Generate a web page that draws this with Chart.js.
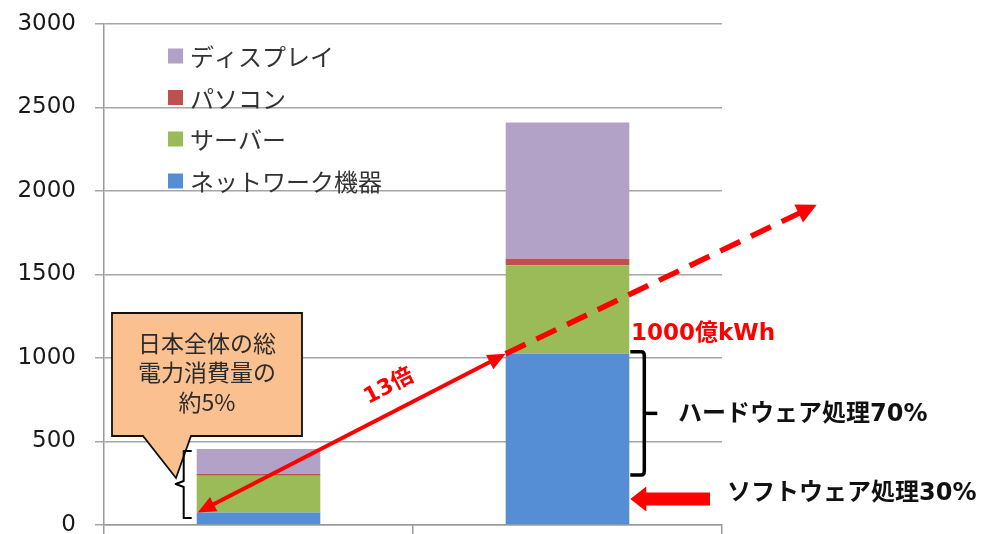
<!DOCTYPE html>
<html>
<head>
<meta charset="utf-8">
<script src="https://cdn.jsdelivr.net/npm/chart.js@4.4.1/dist/chart.umd.min.js"></script>
<style>
html,body{margin:0;padding:0;background:#fff;}
#wrap{width:1002px;height:534px;position:relative;}
</style>
</head>
<body>
<div id="wrap"><canvas id="c"></canvas></div>
<script>
// ---- data ----
const categories = ["現在", "将来"];
const seriesLabels = ["ネットワーク機器", "サーバー", "パソコン", "ディスプレイ"];
const network = [75, 1025];
const server = [220, 530];
const pc = [10, 40];
const display = [150, 815];
const yTicks = [0, 500, 1000, 1500, 2000, 2500, 3000];
const colors = ["#558ED5", "#9BBB59", "#C0504D", "#B3A2C7"];

const JP = "'Noto Sans CJK JP', sans-serif";
const NUM = "'DejaVu Sans', 'Noto Sans CJK JP', sans-serif";

function arrowHead(ctx, tx, ty, ang, len, half) {
  ctx.beginPath();
  ctx.moveTo(tx, ty);
  ctx.lineTo(tx - len * Math.cos(ang) + half * Math.sin(ang), ty - len * Math.sin(ang) - half * Math.cos(ang));
  ctx.lineTo(tx - len * Math.cos(ang) - half * Math.sin(ang), ty - len * Math.sin(ang) + half * Math.cos(ang));
  ctx.closePath();
  ctx.fill();
}

const annotations = {
  id: 'annotations',
  afterDraw(chart) {
    const ctx = chart.ctx;
    const m0 = chart.getDatasetMeta(0);
    const m3 = chart.getDatasetMeta(3);
    const yS = chart.scales.y;
    const L = m0.data[0], R = m0.data[1];
    const lLeft = L.x - L.width / 2, rLeft = R.x - R.width / 2, rRight = R.x + R.width / 2;
    ctx.save();

    // legend (reverse order)
    const legendY = [56, 97.5, 139, 181];
    for (let k = 0; k < 4; k++) {
      const i = 3 - k;
      ctx.fillStyle = colors[i];
      ctx.fillRect(168, legendY[k] - 7.5, 15, 15);
      ctx.fillStyle = '#333';
      ctx.font = "24px " + JP;
      ctx.textBaseline = 'middle';
      ctx.textAlign = 'left';
      ctx.fillText(seriesLabels[i], 190, legendY[k] + 1);
    }

    // callout
    ctx.beginPath();
    ctx.moveTo(112, 313);
    ctx.lineTo(302, 313);
    ctx.lineTo(302, 436);
    ctx.lineTo(191, 436);
    ctx.lineTo(176, 478);
    ctx.lineTo(143, 436);
    ctx.lineTo(112, 436);
    ctx.closePath();
    ctx.fillStyle = '#FAC090';
    ctx.fill();
    ctx.lineWidth = 1.8;
    ctx.strokeStyle = '#111';
    ctx.stroke();
    ctx.fillStyle = '#2b2b2b';
    ctx.font = "23px " + JP;
    ctx.textAlign = 'center';
    ctx.textBaseline = 'middle';
    ctx.fillText("日本全体の総", 207, 343);
    ctx.fillText("電力消費量の", 207, 372);
    ctx.fillText("約5%", 207, 402);

    // left brace
    const lTop = m3.data[0].y + 2, lBot = 518, lMid = 484;
    ctx.strokeStyle = '#000';
    ctx.lineWidth = 2;
    ctx.lineJoin = 'round';
    ctx.beginPath();
    ctx.moveTo(lLeft - 5, lTop);
    ctx.lineTo(lLeft - 13, lTop);
    ctx.lineTo(lLeft - 13, lMid - 3);
    ctx.lineTo(lLeft - 21, lMid);
    ctx.lineTo(lLeft - 13, lMid + 3);
    ctx.lineTo(lLeft - 13, lBot);
    ctx.lineTo(lLeft - 5, lBot);
    ctx.stroke();

    // red solid double arrow
    const x1 = lLeft + 1, y1 = L.y, x2 = rLeft, y2 = R.y;
    const ang = Math.atan2(y2 - y1, x2 - x1);
    ctx.strokeStyle = '#FF0000';
    ctx.fillStyle = '#FF0000';
    ctx.lineWidth = 4;
    ctx.beginPath();
    ctx.moveTo(x1 + 14 * Math.cos(ang), y1 + 14 * Math.sin(ang));
    ctx.lineTo(x2 - 14 * Math.cos(ang), y2 - 14 * Math.sin(ang));
    ctx.stroke();
    arrowHead(ctx, x2, y2, ang, 18, 8);
    arrowHead(ctx, x1, y1, ang + Math.PI, 18, 8);

    // red dashed arrow
    const ex = x2 + 311, ey = y2 - 149;
    const ang2 = Math.atan2(ey - y2, ex - x2);
    ctx.lineWidth = 5.5;
    ctx.setLineDash([22, 12]);
    ctx.beginPath();
    ctx.moveTo(x2, y2);
    ctx.lineTo(ex - 16 * Math.cos(ang2), ey - 16 * Math.sin(ang2));
    ctx.stroke();
    ctx.setLineDash([]);
    arrowHead(ctx, ex, ey, ang2, 20, 10);

    // 13倍
    ctx.save();
    ctx.translate(389, 387);
    ctx.rotate(ang);
    ctx.font = "bold 22px " + NUM;
    ctx.textAlign = 'center';
    ctx.textBaseline = 'middle';
    ctx.fillText("13倍", 0, 0);
    ctx.restore();

    // 1000億kWh
    ctx.font = "bold 23px " + NUM;
    ctx.textAlign = 'left';
    ctx.textBaseline = 'middle';
    ctx.fillText("1000億kWh", 631, 334);

    // right brace
    const rTop = R.y - 2, rBot = yS.getPixelForValue(300), rMid = (rTop + rBot) / 2;
    ctx.strokeStyle = '#000';
    ctx.lineWidth = 3.5;
    ctx.beginPath();
    ctx.moveTo(rRight + 1, rTop);
    ctx.lineTo(rRight + 12, rTop);
    ctx.quadraticCurveTo(rRight + 15, rTop, rRight + 15, rTop + 4);
    ctx.lineTo(rRight + 15, rBot - 4);
    ctx.quadraticCurveTo(rRight + 15, rBot, rRight + 12, rBot);
    ctx.lineTo(rRight + 1, rBot);
    ctx.stroke();
    ctx.beginPath();
    ctx.moveTo(rRight + 15, rMid);
    ctx.lineTo(rRight + 28, rMid);
    ctx.stroke();

    ctx.fillStyle = '#111';
    ctx.font = "bold 24px " + NUM;
    ctx.fillText("ハードウェア処理70%", 678, rMid + 1);

    // red left-pointing arrow
    const ay = 499;
    ctx.fillStyle = '#FF0000';
    ctx.beginPath();
    ctx.moveTo(rRight + 1, ay);
    ctx.lineTo(rRight + 17, ay - 12.5);
    ctx.lineTo(rRight + 17, ay - 6.5);
    ctx.lineTo(710, ay - 6.5);
    ctx.lineTo(710, ay + 6.5);
    ctx.lineTo(rRight + 17, ay + 6.5);
    ctx.lineTo(rRight + 17, ay + 12.5);
    ctx.closePath();
    ctx.fill();

    ctx.fillStyle = '#111';
    ctx.font = "bold 24px " + NUM;
    ctx.fillText("ソフトウェア処理30%", 727, 494);

    ctx.restore();
  }
};

const mk = (label, data, c) => ({ label, data, backgroundColor: c, borderWidth: 0, barPercentage: 0.4, categoryPercentage: 1.0 });

new Chart(document.getElementById('c'), {
  type: 'bar',
  data: {
    labels: categories,
    datasets: [
      mk(seriesLabels[0], network, colors[0]),
      mk(seriesLabels[1], server, colors[1]),
      mk(seriesLabels[2], pc, colors[2]),
      mk(seriesLabels[3], display, colors[3])
    ]
  },
  options: {
    responsive: true,
    maintainAspectRatio: false,
    animation: false,
    layout: { padding: { top: 24, right: 280, left: 0, bottom: 0 } },
    plugins: { legend: { display: false }, tooltip: { enabled: false } },
    scales: {
      x: {
        stacked: true,
        ticks: { display: false },
        grid: { display: true, drawOnChartArea: false, offset: true, tickLength: 9, color: '#9a9a9a', lineWidth: 1.5 },
        border: { color: '#9a9a9a', width: 1.5 },
        afterFit: s => { s.height = 9; s.paddingLeft = 0; s.paddingRight = 0; }
      },
      y: {
        stacked: true,
        min: 0, max: 3000,
        afterBuildTicks: s => { s.ticks = yTicks.map(v => ({ value: v })); },
        ticks: { font: { family: "'DejaVu Sans'", size: 23 }, color: '#1a1a1a', padding: 19, callback: v => String(v) },
        grid: { color: '#a6a6a6', lineWidth: 1.5, tickLength: 9 },
        border: { color: '#9a9a9a', width: 1.5 },
        afterFit: s => { s.width = 104; s.paddingTop = 0; s.paddingBottom = 0; }
      }
    }
  },
  plugins: [annotations]
});
</script>
</body>
</html>
